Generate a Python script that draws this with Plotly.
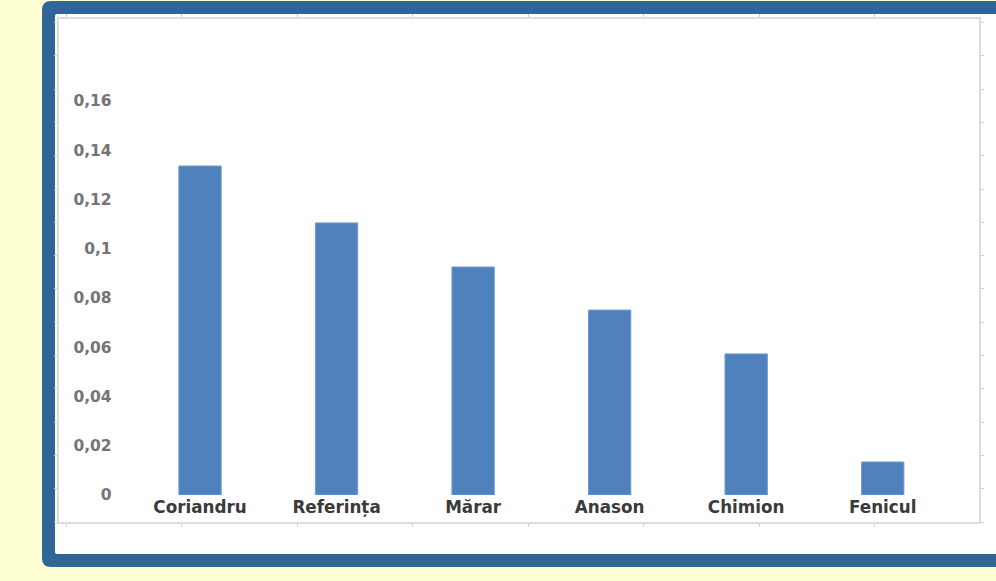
import plotly.graph_objects as go

categories = ["Coriandru", "Referința", "Mărar", "Anason", "Chimion", "Fenicul"]
values = [0.1336, 0.1105, 0.0926, 0.0751, 0.0573, 0.0134]
y_tick_vals = [0, 0.02, 0.04, 0.06, 0.08, 0.10, 0.12, 0.14, 0.16]
y_tick_text = ["0", "0,02", "0,04", "0,06", "0,08", "0,1", "0,12", "0,14", "0,16"]

W, H = 996, 581


def px(x):
    return x / W


def py(y):
    return 1 - y / H


def rounded_rect(x0, y0, x1, y1, r):
    return (f"M {px(x0 + r)} {py(y0)} L {px(x1 - r)} {py(y0)} "
            f"Q {px(x1)} {py(y0)} {px(x1)} {py(y0 + r)} "
            f"L {px(x1)} {py(y1 - r)} Q {px(x1)} {py(y1)} {px(x1 - r)} {py(y1)} "
            f"L {px(x0 + r)} {py(y1)} Q {px(x0)} {py(y1)} {px(x0)} {py(y1 - r)} "
            f"L {px(x0)} {py(y0 + r)} Q {px(x0)} {py(y0)} {px(x0 + r)} {py(y0)} Z")


fig = go.Figure()
fig.add_trace(go.Bar(
    x=categories, y=values, width=0.31,
    marker=dict(color="#4F81BD", line=dict(color="#6f9bd0", width=1)),
    xaxis="x", yaxis="y", hoverinfo="x+y",
))
# invisible trace for the decorative chart-area frame axes
fig.add_trace(go.Scatter(x=[], y=[], xaxis="x2", yaxis="y2", showlegend=False))

fig.update_layout(
    width=W, height=H,
    margin=dict(l=0, r=0, t=0, b=0, pad=0),
    paper_bgcolor="#FFFFD4",
    plot_bgcolor="rgba(0,0,0,0)",
    showlegend=False,
    xaxis=dict(
        domain=[px(131.75), px(951)],
        range=[-0.5, 5.5],
        showline=False, showgrid=False, zeroline=False,
        ticks="", automargin=False,
        tickfont=dict(family="DejaVu Sans", size=16.8, color="#3a3a3a", weight="bold"),
        anchor="y",
    ),
    yaxis=dict(
        domain=[py(495), py(76.4)],
        range=[0, 0.17],
        tickvals=y_tick_vals, ticktext=y_tick_text,
        showline=False, showgrid=False, zeroline=False,
        ticks="outside", ticklen=16, tickcolor="rgba(0,0,0,0)",
        automargin=False,
        tickfont=dict(family="DejaVu Sans", size=15.5, color="#747474", weight="bold"),
        anchor="x",
    ),
    xaxis2=dict(
        domain=[px(59), px(979)],
        range=[-7 / 115.5, (920 - 7) / 115.5],
        dtick=1, tick0=0,
        showline=True, linecolor="#DCDCDC", linewidth=2, mirror="ticks",
        ticks="outside", ticklen=3, tickcolor="#D0D0D0", tickwidth=1,
        showticklabels=False, showgrid=False, zeroline=False,
        anchor="y2", fixedrange=True, automargin=False,
    ),
    yaxis2=dict(
        domain=[py(522), py(19)],
        range=[0, 503 / 33.3],
        dtick=1, tick0=0,
        showline=True, linecolor="#DCDCDC", linewidth=2, mirror="ticks",
        ticks="outside", ticklen=3, tickcolor="#D0D0D0", tickwidth=1,
        showticklabels=False, showgrid=False, zeroline=False,
        anchor="x2", fixedrange=True, automargin=False,
    ),
    shapes=[
        dict(type="path", xref="paper", yref="paper", layer="below",
             path=rounded_rect(42, 1, 1015, 567, 9),
             fillcolor="#316598", line=dict(width=0)),
        dict(type="path", xref="paper", yref="paper", layer="below",
             path=rounded_rect(55, 14, 1005, 554, 2),
             fillcolor="#FFFFFF", line=dict(width=0)),
    ],
)

fig.write_html("out.html")
